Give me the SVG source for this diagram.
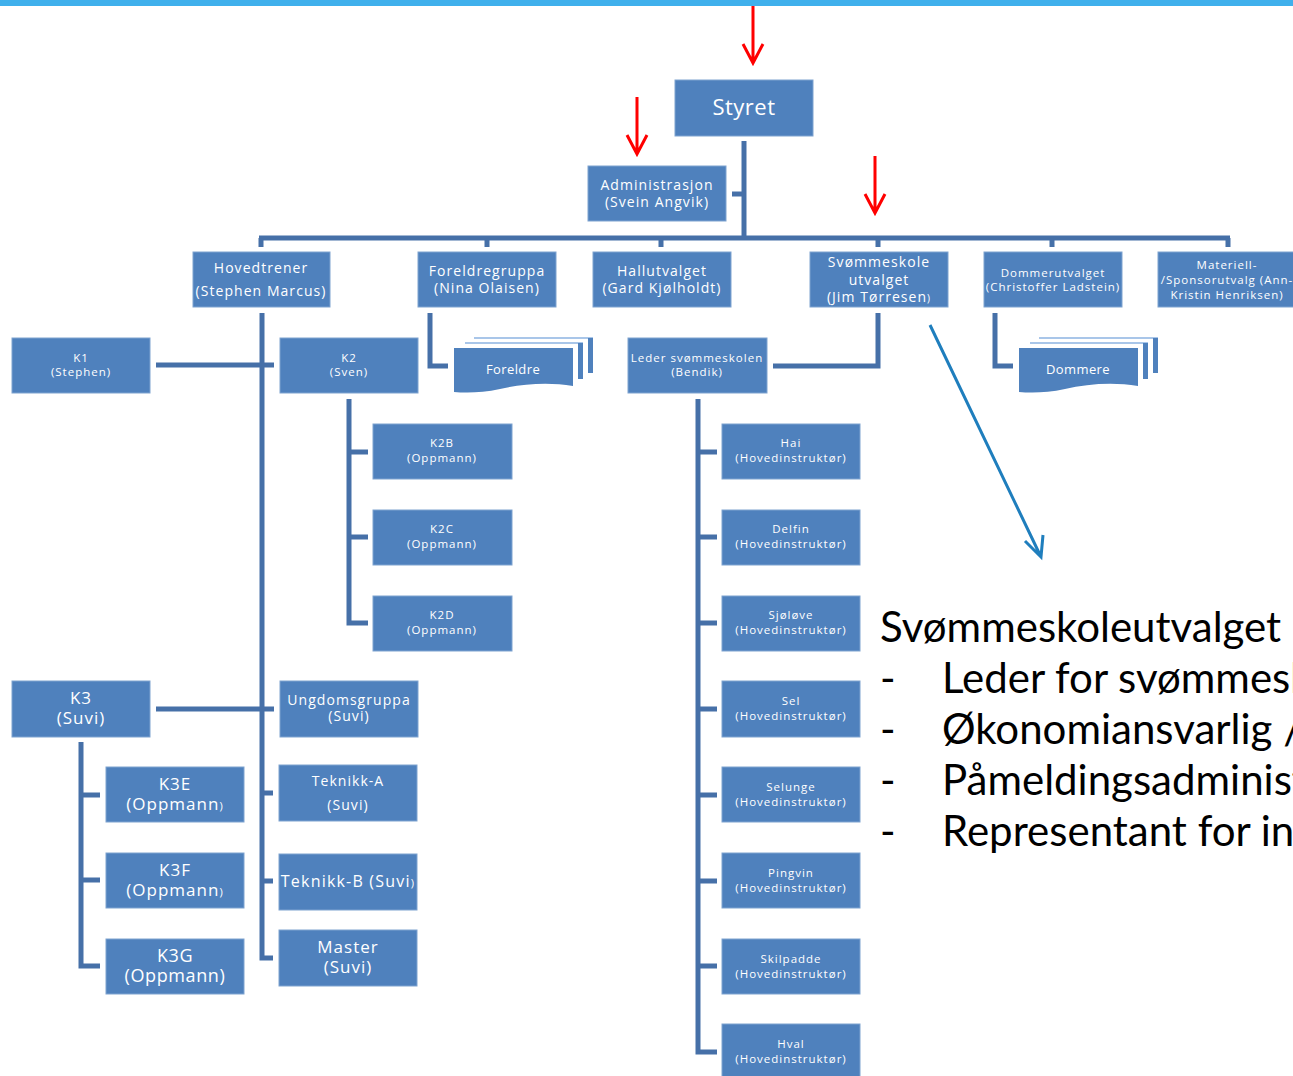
<svg xmlns="http://www.w3.org/2000/svg" width="1293" height="1076" viewBox="0 0 1293 1076">
<defs>
<style>
.b{fill:#4F81BD;stroke:#7FA3D0;stroke-width:1}
.t{fill:#FFFFFF;font-family:"Open Sans","DejaVu Sans",sans-serif;text-anchor:middle}
.s12{font-size:11.5px;letter-spacing:1px}
.s13{font-size:13px;letter-spacing:0.4px}
.s14{font-size:14px;letter-spacing:1.05px}
.s16{font-size:16px;letter-spacing:1.2px}
.s17{font-size:17px;letter-spacing:1px}
.s18{font-size:18px;letter-spacing:0.6px}
.s20{font-size:22px;letter-spacing:0.5px}
.c{fill:none;stroke:#4670A8;stroke-width:5}
.red{fill:none;stroke:#FF0000;stroke-width:3}
.blue{fill:none;stroke:#1F7EBD;stroke-width:3}
.big{fill:#000;font-family:Lato,"Open Sans",sans-serif;font-size:42px}
.thin{stroke:#8DB3E2;stroke-width:1.5}
</style>
</defs>
<rect width="1293" height="1076" fill="#fff"/>
<rect x="0" y="0" width="1293" height="6" fill="#3FB0EC"/>

<g id="annotations">
<path class="red" d="M753,6 V63 M743,44 L753,63 L763,44"/>
<path class="red" d="M637,97 V154 M627,135 L637,154 L647,135"/>
<path class="red" d="M875,156 V213 M865,194 L875,213 L885,194"/>
<path class="blue" d="M930,325 L1041,557 M1025,541 L1041,557 L1043,535"/>
</g>

<g id="connectors">
<path class="c" d="M744,141 V238"/>
<path class="c" d="M732,194 H744"/>
<path class="c" d="M259,238 H1230"/>
<path class="c" d="M261,238 V247 M487,238 V247 M661,238 V247 M878,238 V247 M1052,238 V247 M1228,238 V247"/>
<path class="c" d="M262,313 V958 H273"/>
<path class="c" d="M156,365 H274"/>
<path class="c" d="M156,709 H274"/>
<path class="c" d="M262,793 H273 M262,881 H273"/>
<path class="c" d="M349,399 V623 H368 M349,452 H368 M349,537 H368"/>
<path class="c" d="M81,742 V966 H100 M81,795 H100 M81,880 H100"/>
<path class="c" d="M430,313 V366 H448"/>
<path class="c" d="M995,313 V366 H1013"/>
<path class="c" d="M878,313 V366 H773"/>
<path class="c" d="M698,399 V1052 H717 M698,452 H717 M698,537 H717 M698,623 H717 M698,709 H717 M698,795 H717 M698,881 H717 M698,966 H717"/>
</g>

<g id="styret"><rect class="b" x="675" y="80" width="138" height="56"/><text class="t s20" x="744" y="115">Styret</text></g>
<g id="admin"><rect class="b" x="588" y="166" width="138" height="55"/><text class="t s14" x="657" y="190">Administrasjon</text><text class="t s14" x="657" y="207">(Svein Angvik)</text></g>

<g id="hovedtrener"><rect class="b" x="193" y="252" width="137" height="55"/><text class="t s14" x="261" y="273">Hovedtrener</text><text class="t s14" x="261" y="296">(Stephen Marcus)</text></g>
<g id="foreldregruppa"><rect class="b" x="418" y="252" width="138" height="55"/><text class="t s14" x="487" y="276">Foreldregruppa</text><text class="t s14" x="487" y="293">(Nina Olaisen)</text></g>
<g id="hallutvalget"><rect class="b" x="593" y="252" width="138" height="55"/><text class="t s14" x="662" y="276">Hallutvalget</text><text class="t s14" x="662" y="293">(Gard Kjølholdt)</text></g>
<g id="svommeskole"><rect class="b" x="810" y="252" width="138" height="55"/><text class="t s14" x="879" y="267">Svømmeskole</text><text class="t s14" x="879" y="285">utvalget</text><text class="t s14" x="879" y="302">(Jim Tørresen<tspan font-size="10">)</tspan></text></g>
<g id="dommerutvalget"><rect class="b" x="984" y="252" width="138" height="55"/><text class="t s12" x="1053" y="277">Dommerutvalget</text><text class="t s12" x="1053" y="291">(Christoffer Ladstein)</text></g>
<g id="materiell"><rect class="b" x="1158" y="252" width="140" height="55"/><text class="t s12" x="1227" y="269">Materiell-</text><text class="t s12" x="1227" y="284">/Sponsorutvalg (Ann-</text><text class="t s12" x="1227" y="299">Kristin Henriksen)</text></g>

<g id="k1"><rect class="b" x="12" y="338" width="138" height="55"/><text class="t s12" x="81" y="362">K1</text><text class="t s12" x="81" y="376">(Stephen)</text></g>
<g id="k2"><rect class="b" x="280" y="338" width="138" height="55"/><text class="t s12" x="349" y="362">K2</text><text class="t s12" x="349" y="376">(Sven)</text></g>
<g id="k2b"><rect class="b" x="373" y="424" width="139" height="55"/><text class="t s12" x="442" y="447">K2B</text><text class="t s12" x="442" y="462">(Oppmann)</text></g>
<g id="k2c"><rect class="b" x="373" y="510" width="139" height="55"/><text class="t s12" x="442" y="533">K2C</text><text class="t s12" x="442" y="548">(Oppmann)</text></g>
<g id="k2d"><rect class="b" x="373" y="596" width="139" height="55"/><text class="t s12" x="442" y="619">K2D</text><text class="t s12" x="442" y="634">(Oppmann)</text></g>

<g id="foreldre">
<line class="thin" x1="474" y1="338" x2="593" y2="338"/><rect x="588" y="338" width="5" height="35" fill="#4F81BD"/>
<line class="thin" x1="465" y1="343" x2="583" y2="343"/><rect x="578" y="343" width="5" height="36" fill="#4F81BD"/>
<path fill="#4F81BD" d="M454,348 H573 V386 C548,382 522,384 500,389 C482,393 466,393 454,392 Z"/>
<text class="t s13" x="513" y="374">Foreldre</text></g>

<g id="dommere">
<line class="thin" x1="1039" y1="338" x2="1158" y2="338"/><rect x="1153" y="338" width="5" height="35" fill="#4F81BD"/>
<line class="thin" x1="1030" y1="343" x2="1148" y2="343"/><rect x="1143" y="343" width="5" height="36" fill="#4F81BD"/>
<path fill="#4F81BD" d="M1019,348 H1138 V386 C1113,382 1087,384 1065,389 C1047,393 1031,393 1019,392 Z"/>
<text class="t s13" x="1078" y="374">Dommere</text></g>

<g id="leder"><rect class="b" x="628" y="338" width="139" height="55"/><text class="t s12" x="697" y="362">Leder svømmeskolen</text><text class="t s12" x="697" y="376">(Bendik)</text></g>
<g id="hai"><rect class="b" x="722" y="424" width="138" height="55"/><text class="t s12" x="791" y="447">Hai</text><text class="t s12" x="791" y="462">(Hovedinstruktør)</text></g>
<g id="delfin"><rect class="b" x="722" y="510" width="138" height="55"/><text class="t s12" x="791" y="533">Delfin</text><text class="t s12" x="791" y="548">(Hovedinstruktør)</text></g>
<g id="sjolove"><rect class="b" x="722" y="596" width="138" height="55"/><text class="t s12" x="791" y="619">Sjøløve</text><text class="t s12" x="791" y="634">(Hovedinstruktør)</text></g>
<g id="sel"><rect class="b" x="722" y="681" width="138" height="56"/><text class="t s12" x="791" y="705">Sel</text><text class="t s12" x="791" y="720">(Hovedinstruktør)</text></g>
<g id="selunge"><rect class="b" x="722" y="767" width="138" height="55"/><text class="t s12" x="791" y="791">Selunge</text><text class="t s12" x="791" y="806">(Hovedinstruktør)</text></g>
<g id="pingvin"><rect class="b" x="722" y="853" width="138" height="55"/><text class="t s12" x="791" y="877">Pingvin</text><text class="t s12" x="791" y="892">(Hovedinstruktør)</text></g>
<g id="skilpadde"><rect class="b" x="722" y="939" width="138" height="55"/><text class="t s12" x="791" y="963">Skilpadde</text><text class="t s12" x="791" y="978">(Hovedinstruktør)</text></g>
<g id="hval"><rect class="b" x="722" y="1024" width="138" height="56"/><text class="t s12" x="791" y="1048">Hval</text><text class="t s12" x="791" y="1063">(Hovedinstruktør)</text></g>

<g id="k3"><rect class="b" x="12" y="681" width="138" height="56"/><text class="t s17" x="81" y="704">K3</text><text class="t s17" x="81" y="724">(Suvi)</text></g>
<g id="ungdomsgruppa"><rect class="b" x="280" y="681" width="138" height="56"/><text class="t s14" x="349" y="705">Ungdomsgruppa</text><text class="t s14" x="349" y="721">(Suvi)</text></g>
<g id="teknikka"><rect class="b" x="279" y="765" width="138" height="56"/><text class="t s14" x="348" y="786">Teknikk-A</text><text class="t s14" x="348" y="810">(Suvi)</text></g>
<g id="teknikkb"><rect class="b" x="279" y="854" width="138" height="56"/><text class="t s16" x="348" y="887">Teknikk-B (Suvi<tspan font-size="11">)</tspan></text></g>
<g id="master"><rect class="b" x="279" y="930" width="138" height="56"/><text class="t s17" x="348" y="953" letter-spacing="1.8">Master</text><text class="t s17" x="348" y="973">(Suvi)</text></g>
<g id="k3e"><rect class="b" x="106" y="767" width="138" height="55"/><text class="t s17" x="175" y="790">K3E</text><text class="t s17" x="175" y="810">(Oppmann<tspan font-size="11">)</tspan></text></g>
<g id="k3f"><rect class="b" x="106" y="853" width="138" height="55"/><text class="t s17" x="175" y="876">K3F</text><text class="t s17" x="175" y="896">(Oppmann<tspan font-size="11">)</tspan></text></g>
<g id="k3g"><rect class="b" x="106" y="939" width="138" height="55"/><text class="t s18" x="175" y="962">K3G</text><text class="t s18" x="175" y="982">(Oppmann)</text></g>

<g id="notes">
<text class="big" x="880" y="642">Svømmeskoleutvalget b</text>
<text class="big" x="880" y="693">-</text><text class="big" x="942" y="693">Leder for svømmesk</text>
<text class="big" x="880" y="744">-</text><text class="big" x="942" y="744">Økonomiansvarlig / </text>
<text class="big" x="880" y="795">-</text><text class="big" x="942" y="795">Påmeldingsadminist</text>
<text class="big" x="880" y="846">-</text><text class="big" x="942" y="846">Representant for ins</text>
</g>
</svg>
